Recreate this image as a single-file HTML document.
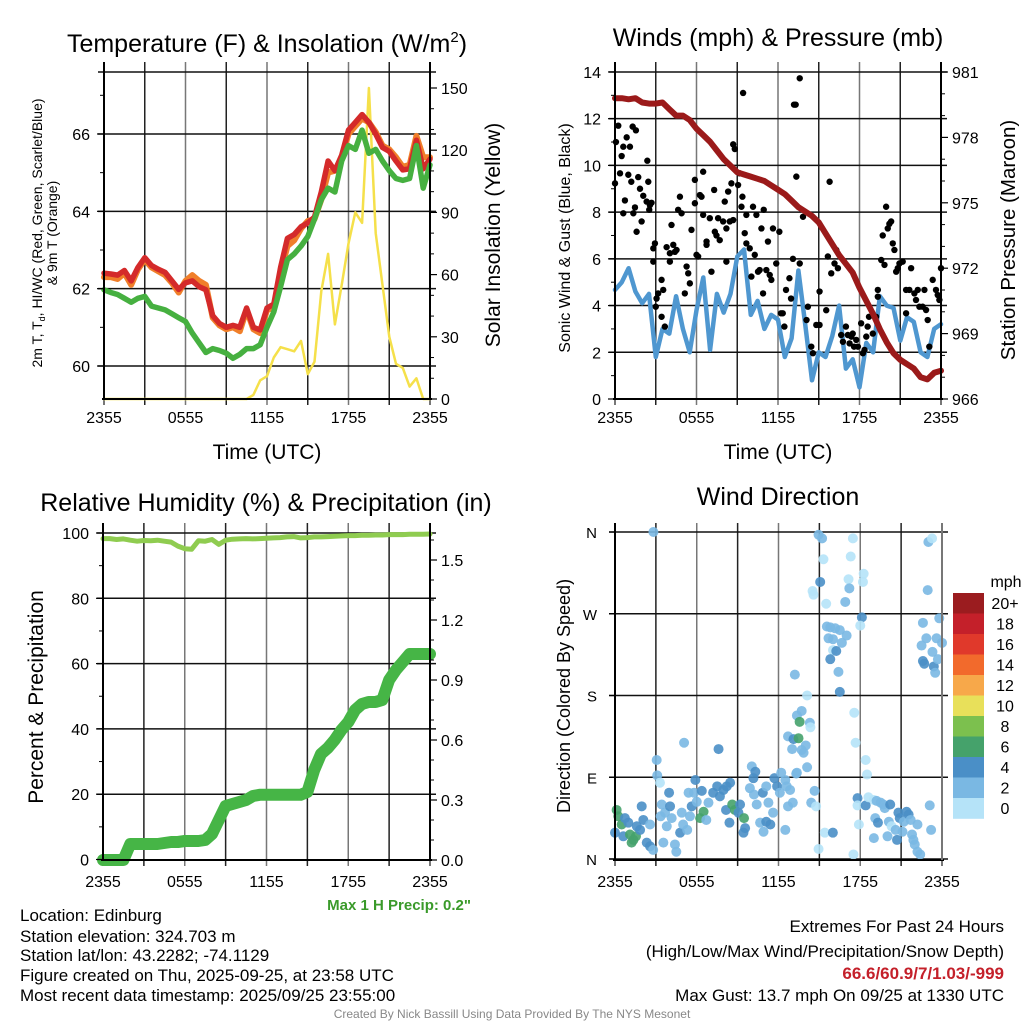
<!DOCTYPE html>
<html><head><meta charset="utf-8"><style>
body{margin:0;background:#fff;}
svg text{font-family:"Liberation Sans",sans-serif;fill:#000;}
</style></head><body>
<svg id="s" width="1024" height="1024" viewBox="0 0 1024 1024" xmlns="http://www.w3.org/2000/svg">
<rect width="1024" height="1024" fill="#fff"/>
<g id="grid"></g>
<g id="marks"></g>
<g id="axes"></g>
<g id="labels" font-size="16">
<text x="267" y="52" font-size="25" text-anchor="middle">Temperature (F) &amp; Insolation (W/m<tspan font-size="15" dy="-10">2</tspan><tspan dy="10">)</tspan></text>
<text x="778" y="46" font-size="25" text-anchor="middle">Winds (mph) &amp; Pressure (mb)</text>
<text x="266" y="511" font-size="25" text-anchor="middle">Relative Humidity (%) &amp; Precipitation (in)</text>
<text x="778" y="505" font-size="25" text-anchor="middle">Wind Direction</text>
<text x="267" y="459" font-size="21" text-anchor="middle">Time (UTC)</text>
<text x="778" y="459" font-size="21" text-anchor="middle">Time (UTC)</text>
<text transform="translate(42,233) rotate(-90)" font-size="14" text-anchor="middle">2m T, T<tspan font-size="9" dy="3">d</tspan><tspan dy="-3">, HI/WC (Red, Green, Scarlet/Blue)</tspan></text>
<text transform="translate(57,233) rotate(-90)" font-size="14" text-anchor="middle">&amp; 9m T (Orange)</text>
<text transform="translate(500,235) rotate(-90)" font-size="21" text-anchor="middle">Solar Insolation (Yellow)</text>
<text transform="translate(570,238) rotate(-90)" font-size="16" text-anchor="middle">Sonic Wind &amp; Gust (Blue, Black)</text>
<text transform="translate(1015,240) rotate(-90)" font-size="20.5" text-anchor="middle">Station Pressure (Maroon)</text>
<text transform="translate(43,697) rotate(-90)" font-size="21" text-anchor="middle">Percent &amp; Precipitation</text>
<text transform="translate(570,696) rotate(-90)" font-size="18" text-anchor="middle">Direction (Colored By Speed)</text>
<text x="471" y="910" font-size="15" font-weight="bold" text-anchor="end" style="fill:#3a9a2a">Max 1 H Precip: 0.2"</text>
<g font-size="17">
<text x="20" y="921">Location: Edinburg</text>
<text x="20" y="942">Station elevation: 324.703 m</text>
<text x="20" y="961">Station lat/lon: 43.2282; -74.1129</text>
<text x="20" y="981">Figure created on Thu, 2025-09-25, at 23:58 UTC</text>
<text x="20" y="1001">Most recent data timestamp: 2025/09/25 23:55:00</text>
</g>
<g font-size="17" text-anchor="end">
<text x="1004" y="932">Extremes For Past 24 Hours</text>
<text x="1004" y="957">(High/Low/Max Wind/Precipitation/Snow Depth)</text>
<text x="1004" y="979" font-weight="bold" style="fill:#c4202a">66.6/60.9/7/1.03/-999</text>
<text x="1004" y="1001">Max Gust: 13.7 mph On 09/25 at 1330 UTC</text>
</g>
<text x="512" y="1018" font-size="12" text-anchor="middle" style="fill:#888">Created By Nick Bassill Using Data Provided By The NYS Mesonet</text>
</g>
</svg>
<script>
const timeLabels=["2355","0555","1155","1755","2355"];
const tempRed=[62.4,62.38,62.35,62.47,62.2,62.55,62.8,62.6,62.5,62.42,62.2,61.98,62.15,62.2,62.05,61.97,61.3,61.1,61.0,61.05,61.0,61.5,61.0,60.93,61.5,61.6,62.55,63.3,63.4,63.6,63.7,63.85,64.5,65.3,65.05,65.45,66.1,66.3,66.5,66.3,66.0,65.65,65.55,65.3,65.07,65.1,65.84,65.1,65.35];
const tempOrange=[62.3,62.3,62.25,62.4,62.1,62.5,62.75,62.55,62.45,62.35,62.15,61.9,62.2,62.35,62.2,62.1,61.25,61.05,60.95,61.0,60.9,61.45,60.95,60.85,61.45,61.5,62.4,63.1,63.25,63.55,63.75,63.8,64.3,65.0,65.05,65.4,66.0,66.2,66.4,66.3,66.05,65.7,65.6,65.4,65.15,65.2,65.95,65.4,65.4];
const tempGreen=[61.97,61.9,61.85,61.75,61.65,61.75,61.8,61.55,61.5,61.45,61.35,61.25,61.15,60.85,60.6,60.35,60.45,60.4,60.33,60.2,60.3,60.45,60.45,60.55,61.0,61.4,62.05,62.75,62.9,63.1,63.35,63.8,64.3,64.6,64.5,65.3,65.7,65.6,66.1,65.5,65.6,65.3,65.05,64.85,64.8,64.85,65.7,64.6,65.2];
const insolation=[0,0,0,0,0,0,0,0,0,0,0,0,0,0,0,0,0,0,0,0,0,0,2,9,11,20,25,24,23,28,12,18,52,70,36,55,75,90,85,150,80,55,30,17,15,6,10,0,0];
const windSpeed=[4.67,5.0,5.6,4.6,4.1,4.5,1.8,3.0,2.8,4.4,3.0,2.0,3.8,5.2,2.1,4.5,3.7,4.5,6.1,6.4,3.6,4.2,3.0,3.6,3.4,1.8,2.6,5.5,3.2,0.8,2.0,1.8,2.7,4.0,1.3,1.7,0.5,2.4,2.0,4.4,4.0,3.9,2.5,3.5,3.3,2.0,1.8,3.0,3.2];
const pressure=[979.8,979.8,979.75,979.8,979.6,979.55,979.55,979.6,979.3,979.0,979.0,978.8,978.4,978.1,977.8,977.4,977.0,976.7,976.4,976.3,976.2,976.1,976.0,975.8,975.6,975.4,975.1,974.8,974.6,974.4,974.1,973.6,973.1,972.6,972.2,971.8,971.1,970.5,969.9,969.2,968.6,968.1,967.8,967.6,967.4,967.0,966.9,967.2,967.3];
const gustHours=[0,0.07,0.24,0.49,0.61,0.86,1.1,1.3,1.54,0.37,0.98,1.2,1.71,2.45,2.38,0.73,0.61,1.35,1.47,1.84,2.08,2.33,2.57,1.96,1.59,2.69,2.52,2.82,2.94,2.82,3.18,3.06,3.43,3.55,3.0,3.43,3.67,3.8,4.04,4.29,4.41,4.53,4.04,4.16,4.65,4.78,4.9,5.14,5.27,5.39,5.51,5.63,5.88,5.88,6.0,6.12,6.25,6.37,6.49,6.49,6.74,6.74,6.98,7.1,7.3,7.35,7.47,7.59,7.71,7.96,8.08,8.2,8.2,8.33,8.45,8.57,8.7,8.7,8.82,9.06,9.18,9.31,9.38,9.43,9.55,9.67,9.67,9.92,10.04,10.16,10.29,10.41,10.53,10.65,10.78,10.9,10.95,11.14,11.26,11.39,11.51,11.63,11.87,12.1,12.22,12.35,12.47,12.59,12.84,12.96,13.1,13.18,13.35,13.3,13.6,13.6,13.84,14.2,14.1,14.45,14.57,14.82,15.06,15.06,15.55,15.67,15.8,15.92,16.16,16.29,16.41,16.65,16.78,17.0,17.14,17.27,17.4,17.5,17.6,17.76,17.88,18.12,18.25,18.37,18.5,18.6,18.7,18.98,19.22,19.35,19.35,19.6,19.71,19.84,19.96,20.08,20.2,20.33,20.45,20.57,20.7,20.82,20.94,21.18,21.43,21.43,21.67,21.8,22.04,22.16,22.29,22.41,22.65,22.78,22.9,23.02,23.14,23.39,23.63,23.76,23.88,24.0];
const gustValues=[9.23,11.0,11.7,10.4,10.8,11.2,10.8,11.66,11.5,9.66,9.6,9.3,9.5,9.3,10.2,8.5,7.95,7.95,8.2,9.0,8.7,8.45,8.3,7.6,7.16,8.4,8.1,6.45,6.66,5.88,4.52,4.3,5.1,4.67,3.95,3.52,3.1,6.5,6.24,6.6,6.3,6.38,5.88,7.45,8.1,8.66,7.95,4.52,5.67,5.38,4.95,7.24,9.38,8.38,6.17,6.1,8.73,8.66,9.73,7.88,6.74,6.6,7.74,5.45,8.95,7.16,7.0,7.74,6.8,7.6,8.45,7.3,5.88,8.88,7.6,9.23,7.66,10.9,10.7,9.16,9.66,8.23,8.66,13.1,7.1,7.88,6.66,6.45,5.24,8.23,6.17,7.88,5.45,5.52,7.3,4.52,8.1,5.52,6.74,5.31,5.1,7.3,5.8,7.16,3.67,3.67,3.1,4.67,5.17,4.3,6.0,12.6,9.52,12.6,13.73,5.8,7.8,3.95,3.38,2.24,1.96,3.17,3.17,4.6,3.8,6.1,9.3,5.38,5.8,6.38,5.6,2.74,2.45,3.1,2.74,2.38,2.67,2.8,2.24,2.53,2.24,3.24,1.96,2.1,2.67,3.1,3.52,2.8,3.52,4.67,4.38,5.95,7.0,5.74,8.23,7.3,7.5,7.6,6.66,6.38,5.45,5.6,5.8,5.88,4.67,3.67,4.67,5.6,4.52,4.24,4.67,3.95,3.95,4.67,3.81,3.38,2.24,5.1,4.67,4.45,4.24,5.6];
const rh=[98.3,98.3,98.0,98.2,97.8,97.5,97.7,97.6,97.8,97.5,97.2,96.0,95.2,95.0,97.6,97.5,98.0,96.5,97.8,98.1,98.2,98.3,98.2,98.3,98.4,98.5,98.6,98.8,98.9,98.5,98.6,98.8,98.8,98.9,99.0,99.1,99.2,99.2,99.3,99.3,99.4,99.4,99.5,99.5,99.5,99.6,99.6,99.6,99.7];
const precip=[0,0,0,0,0.08,0.08,0.08,0.08,0.08,0.085,0.09,0.09,0.095,0.095,0.095,0.1,0.13,0.2,0.27,0.28,0.29,0.3,0.32,0.326,0.326,0.326,0.326,0.326,0.326,0.326,0.34,0.45,0.53,0.56,0.6,0.65,0.69,0.75,0.78,0.79,0.79,0.8,0.9,0.95,0.99,1.03,1.03,1.03,1.03];
const dirHours=[2.82,14.94,15.2,17.46,23.0,23.27,15.3,17.3,15.06,17.14,18.25,18.2,14.5,14.57,15.5,16.9,17.2,22.95,18.12,18.0,15.55,15.8,16.16,16.5,17.0,15.67,16.0,16.65,16.0,16.24,15.8,16.4,16.5,22.6,23.8,22.85,23.6,24,22.5,23.3,22.6,22.7,23.4,23.7,23.5,13.2,14.1,13.7,13.35,13.55,14.3,14.34,12.7,13.1,13.47,14.0,13.7,13.0,13.84,17.56,17.66,18.4,18.5,14.1,13.3,5.07,7.6,3.06,3.1,3.3,0,0.12,0.24,0.49,0.73,0.61,0.98,1.1,1.35,1.22,1.54,1.6,1.96,2.08,1.84,2.33,2.57,2.8,2.57,3.43,3.35,3.67,3.8,3.55,4.04,3.97,4.16,4.4,4.5,4.78,4.9,5.0,5.3,5.5,5.63,5.4,5.9,5.8,6.0,6.25,6.5,6.7,6.37,6.86,7.2,7.5,7.7,7.96,8.2,8.45,8.15,8.4,8.6,8.8,9.06,9.18,9.47,9.43,9.55,10.04,10.16,10.3,9.9,10.2,10.4,10.65,10.9,11.1,11.4,10.85,11.1,11.26,11.6,11.7,11.9,12.1,12.2,12.5,12.6,12.7,12.5,12.85,13.05,13.35,14.65,14.4,14.76,14.94,15.4,15.99,17.5,17.9,17.8,17.8,18.4,18.6,19.0,19.2,19.5,19.7,19.8,20.2,19.1,19.3,19.0,20.0,20.1,20.3,20.6,20.7,20.8,20.9,21.2,21.4,21.55,21.7,21.8,21.9,22.0,22.2,22.4,21.1,22.2,23.1,23.2];
const dirDegrees=[360,357,353,353,349,353,330,333,305,308,314,305,295,291,281,283,298,296,266,257,256,255,254,252,246,243,242,238,230,229,220,206,184,260,265,243,243,238,235,228,218,215,212,220,205,203,180,163,158,151,150,145,135,132,133,125,120,121,117,161,128,109,93,101,94,128,121,109,92,84,29,54,47,38,45,25,40,27,21,18,25,36,58,43,32,18,14,10,38,60,47,51,36,18,58,73,45,16,8,29,51,38,32,47,58,73,87,73,63,45,52,43,75,62,73,80,69,76,80,84,54,40,60,54,51,60,45,29,34,102,89,96,78,71,60,40,30,41,38,73,80,62,51,89,80,73,95,87,80,58,32,76,62,95,75,62,58,11,29,29,5,38,67,59,59,68,65,64,62,60,56,60,45,40,23,25,41,36,32,21,51,45,41,52,49,43,27,21,16,8,5,30,38,59,32];
const dirSpeed=[3,3,3,1,3,1,1,1,5,1,1,1,1,1,1,3,3,3,5,1,3,3,3,3,3,3,3,3,1,5,5,3,5,3,3,3,3,3,3,3,5,5,5,3,3,3,1,3,3,7,3,1,3,5,7,3,3,3,3,1,1,1,1,3,3,3,5,3,3,1,5,7,7,7,5,5,5,7,7,7,7,5,5,5,5,5,5,3,3,3,3,3,3,3,5,5,3,3,3,5,3,3,3,3,5,3,5,3,3,7,7,3,5,3,5,5,5,5,5,5,5,5,7,7,5,5,7,5,5,3,5,5,3,3,3,3,3,5,5,5,3,3,3,5,5,3,3,3,3,3,3,3,3,3,3,3,1,1,1,5,1,1,5,1,5,1,1,3,3,3,3,5,3,5,3,3,3,1,3,5,5,5,3,5,5,3,3,3,3,3,3,3,3,3,3,5,3,3,1];
const speedLevels=["0","2","4","6","8","10","12","14","16","18","20+"];
const speedColors=["#b5e3f8","#7ab8e3","#4a8fc7","#45a26b","#7cc04e","#e8e05a","#f7a84a","#f26a2c","#e0392b","#c4202a","#9b1c1f"];

const NS="http://www.w3.org/2000/svg";
const G=document.getElementById('grid'),M=document.getElementById('marks'),A=document.getElementById('axes'),L=document.getElementById('labels');
function mk(tag,parent,at){const e=document.createElementNS(NS,tag);for(const k in at)e.setAttribute(k,at[k]);parent.appendChild(e);return e;}
function txt(parent,x,y,s,anchor,size){const t=mk('text',parent,{x:x,y:y,'text-anchor':anchor,'font-size':size});t.textContent=s;return t;}
const P={p1:{x0:104,x1:430,top:62,bot:399},p2:{x0:615,x1:941,top:62,bot:399},p3:{x0:103,x1:430,top:523,bot:860},p4:{x0:615,x1:942,top:523,bot:860}};
function xh(p,h){return p.x0+(p.x1-p.x0)*h/24;}
const yT=v=>366-(v-60)*38.67, yI=v=>399-v*311/150;
const yW=v=>399-v*23.36, yP=v=>399-(v-966)*21.8;
const yRH=v=>859.5-v*3.265, yPr=v=>860-v*200;
const yD=v=>859-v*0.9083;

function frame(p,name,hlines){
  for(let k=0;k<=8;k++){const x=p.x0+(p.x1-p.x0)*k/8;
    const l=mk('line',G,{x1:x,x2:x,y1:p.top,y2:p.bot+6,stroke:(k%2?'#222':'#777'),'stroke-width':(k==0||k==8)?2:1.5});
    }
  hlines.forEach(y=>{const l=mk('line',G,{x1:p.x0-6,x2:p.x1+6,y1:y,y2:y,stroke:'#111','stroke-width':1.5});
    });
  const b=mk('line',A,{x1:p.x0-2,x2:p.x1+2,y1:p.bot,y2:p.bot,stroke:'#000','stroke-width':2});
  
  const yl=p.bot+(name==='p1'||name==='p2'?24:27);
  timeLabels.forEach((s,i)=>{const t=txt(L,p.x0+(p.x1-p.x0)*i/4,yl,s,'middle',16);
    });
}
function yTicks(x,vals,fy,fmt,side,name,minor){
  vals.forEach(v=>{const y=fy(v);
    mk('line',A,{x1:x,x2:x+(side<0?-7:7),y1:y,y2:y,stroke:'#000','stroke-width':1.2});
    const t=txt(L,x+(side<0?-14:11),y+6,fmt(v),side<0?'end':'start',16);
    });
  (minor||[]).forEach(v=>{const y=fy(v);mk('line',A,{x1:x,x2:x+(side<0?-4:4),y1:y,y2:y,stroke:'#000','stroke-width':1});});
}
function path(d,xs,ys,color,w,name,parent){
  let s='';xs.forEach((x,i)=>{s+=(i?'L':'M')+x.toFixed(1)+','+ys[i].toFixed(1);});
  const e=mk('path',parent||M,{d:s,fill:'none',stroke:color,'stroke-width':w,'stroke-linejoin':'round','stroke-linecap':'round'});
  return e;}
function series(p,arr,fy,color,w,name){const n=arr.length;
  return path(null,arr.map((v,i)=>xh(p,i*24/(n-1))),arr.map(fy),color,w,name);}

const p1=P.p1;
frame(p1,'p1',[yT(60),yT(62),yT(64),yT(66),72]);
mk('line',A,{x1:p1.x0,x2:p1.x0,y1:p1.top,y2:p1.bot,stroke:'#000','stroke-width':2});
mk('line',A,{x1:p1.x1,x2:p1.x1,y1:p1.top,y2:p1.bot,stroke:'#000','stroke-width':2});
yTicks(p1.x0,[60,62,64,66],yT,v=>String(v),-1,'temp-y',[61,63,65,67]);
yTicks(p1.x1,[0,30,60,90,120,150],yI,v=>String(v),1,'insolation-y',[10,20,40,50,70,80,100,110,130,140]);
series(p1,insolation,yI,'#f5e04a',2.5,'insolation-line');
series(p1,tempOrange,yT,'#f07f2a',6,'temp-9m-line');
series(p1,tempRed,yT,'#d42a2a',5.5,'temp-2m-line');
series(p1,tempGreen,yT,'#46b040',5.5,'dewpoint-line');

const p2=P.p2;
frame(p2,'p2',[yW(2),yW(4),yW(6),yW(8),yW(10),yW(12),yW(14)]);
mk('line',A,{x1:p2.x0,x2:p2.x0,y1:p2.top,y2:p2.bot,stroke:'#000','stroke-width':2});
mk('line',A,{x1:p2.x1,x2:p2.x1,y1:p2.top,y2:p2.bot,stroke:'#000','stroke-width':2});
yTicks(p2.x0,[0,2,4,6,8,10,12,14],yW,v=>String(v),-1,'wind-y',[1,3,5,7,9,11,13]);
yTicks(p2.x1,[966,969,972,975,978,981],yP,v=>String(v),1,'pressure-y',[967,968,970,971,973,974,976,977,979,980]);
series(p2,windSpeed,yW,'#4f97d0',4.5,'wind-speed-line');
gustHours.forEach((h,i)=>{const c=mk('circle',M,{cx:xh(p2,h),cy:yW(gustValues[i]),r:3.2,fill:'#000'});
  
  });
series(p2,pressure,yP,'#9b1a1a',6,'pressure-line');

const p3=P.p3;
frame(p3,'p3',[yRH(20),yRH(40),yRH(60),yRH(80),yRH(100)]);
mk('line',A,{x1:p3.x0,x2:p3.x0,y1:p3.top,y2:p3.bot,stroke:'#000','stroke-width':2});
mk('line',A,{x1:p3.x1,x2:p3.x1,y1:p3.top,y2:p3.bot,stroke:'#000','stroke-width':2});
yTicks(p3.x0,[0,20,40,60,80,100],yRH,v=>String(v),-1,'rh-y',[10,30,50,70,90]);
yTicks(p3.x1,[0,0.3,0.6,0.9,1.2,1.5],yPr,v=>v.toFixed(1),1,'precip-y',[0.1,0.2,0.4,0.5,0.7,0.8,1.0,1.1,1.3,1.4,1.6]);
series(p3,rh,yRH,'#8fcc50',5,'rh-line');
series(p3,precip,yPr,'#46b546',12,'precip-line');

const p4=P.p4;
frame(p4,'p4',[yD(90),yD(180),yD(270),yD(360),yD(0)]);
mk('line',A,{x1:p4.x0,x2:p4.x0,y1:p4.top,y2:p4.bot,stroke:'#000','stroke-width':2});
mk('line',A,{x1:p4.x1,x2:p4.x1,y1:p4.top,y2:p4.bot,stroke:'#777','stroke-width':2});
const dirNames=["N","E","S","W","N"];
dirNames.forEach((s,i)=>{const y=yD(i*90);
  mk('line',A,{x1:p4.x0,x2:p4.x0-6,y1:y,y2:y,stroke:'#000','stroke-width':1.2});
  const t=txt(L,p4.x0-18,y+6,s,'end',15);
  
  });
dirHours.forEach((h,i)=>{const ci=Math.min(10,Math.floor(dirSpeed[i]/2));
  const c=mk('circle',M,{cx:xh(p4,h),cy:yD(dirDegrees[i]),r:5,fill:speedColors[ci],'fill-opacity':0.9});
  
  });
const cb=mk('g',M,{});


const cbx=953,cbTop=593,cbH=20.5;
speedLevels.forEach((s,i)=>{const k=10-i;const y=cbTop+i*cbH;
  mk('rect',cb,{x:cbx,y:y,width:31,height:cbH+0.3,fill:speedColors[k]});
  const t=txt(L,1005,y+16,speedLevels[k],'middle',16);
  
  });
const mt=txt(L,1006,587,'mph','middle',16);


</script>
</body></html>
